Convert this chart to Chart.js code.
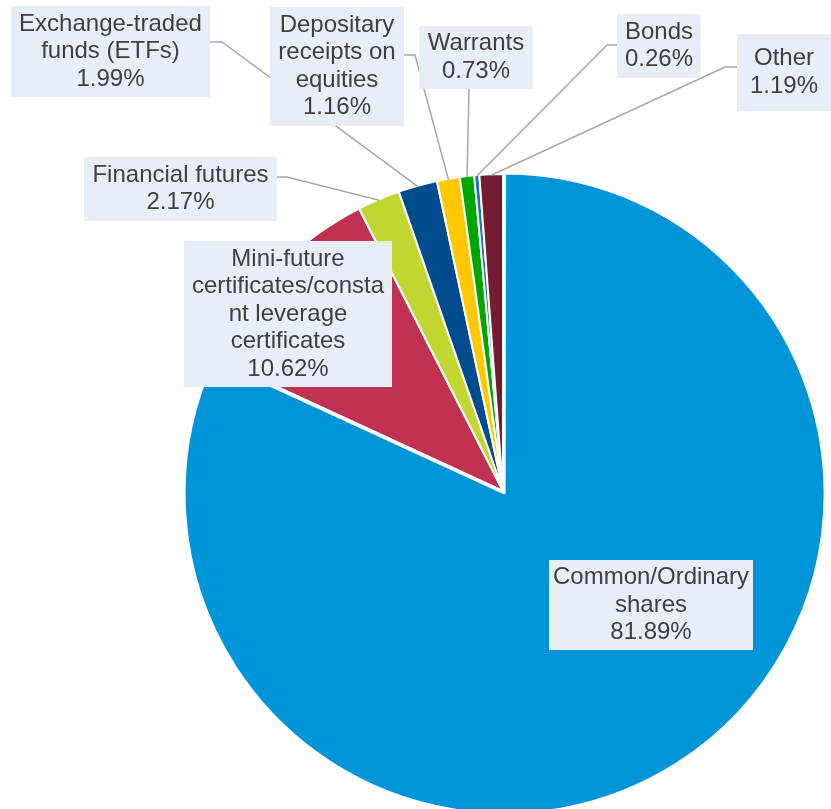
<!DOCTYPE html>
<html>
<head>
<meta charset="utf-8">
<script src="https://cdn.jsdelivr.net/npm/chart.js@4"></script>
<style>
  html, body { margin: 0; padding: 0; background: #fff; overflow: hidden; }
  #wrap { width: 831px; height: 809px; position: relative; }
</style>
</head>
<body>
<div id="wrap"><canvas id="myChart"></canvas></div>
<script>
/* global Chart */

// categories (line breaks as shown in the labels) and shares in %
var categories = [
  ['Common/Ordinary', 'shares'],
  ['Mini-future', 'certificates/consta', 'nt leverage', 'certificates'],
  ['Financial futures'],
  ['Exchange-traded', 'funds (ETFs)'],
  ['Depositary', 'receipts on', 'equities'],
  ['Warrants'],
  ['Bonds'],
  ['Other']
];
var shares = [81.89, 10.62, 2.17, 1.99, 1.16, 0.73, 0.26, 1.19];
var colors = ['#0095D8', '#C13151', '#C1D631', '#004C8E', '#FFC800', '#00A600', '#2273B0', '#731C33'];

// label boxes: [x, y, w, h] and leader line start points (end is on the slice)
var labelBoxes = [
  { box: [549, 560, 204, 90] },
  { box: [184, 241, 208, 146] },
  { box: [84, 157, 193, 64], leader: [[277, 177], [287, 177]] },
  { box: [11, 6, 199, 91], leader: [[210, 42], [222, 42]] },
  { box: [270, 7, 134, 119], leader: [[404, 55], [415, 55]] },
  { box: [419, 26, 114, 63], leader: [[469, 89]] },
  { box: [617, 14, 84, 64], leader: [[617, 45], [607, 45]] },
  { box: [737, 34, 94, 77], leader: [[737, 67], [725, 67]] }
];

var pieLabels = {
  id: 'pieLabels',
  afterDatasetsDraw: function(chart) {
    var ctx = chart.ctx;
    var arcs = chart.getDatasetMeta(0).data;
    ctx.save();
    // leader lines first so boxes sit over them
    ctx.strokeStyle = '#A6A6A6';
    ctx.lineWidth = 1.5;
    labelBoxes.forEach(function(lb, i) {
      if (!lb.leader) return;
      var a = arcs[i];
      var mid = (a.startAngle + a.endAngle) / 2;
      var r = a.outerRadius - 1;
      ctx.beginPath();
      ctx.moveTo(lb.leader[0][0], lb.leader[0][1]);
      for (var k = 1; k < lb.leader.length; k++) ctx.lineTo(lb.leader[k][0], lb.leader[k][1]);
      ctx.lineTo(a.x + Math.cos(mid) * r, a.y + Math.sin(mid) * r);
      ctx.stroke();
    });
    ctx.font = '24px "Liberation Sans", Arial, sans-serif';
    ctx.textAlign = 'center';
    ctx.textBaseline = 'middle';
    var lh = 27.5;
    labelBoxes.forEach(function(lb, i) {
      var b = lb.box;
      ctx.fillStyle = '#E7EEF7';
      ctx.fillRect(b[0], b[1], b[2], b[3]);
      var lines = categories[i].concat([shares[i].toFixed(2) + '%']);
      var cx = b[0] + b[2] / 2;
      var top = b[1] + b[3] / 2 - (lines.length - 1) * lh / 2;
      ctx.fillStyle = '#404040';
      lines.forEach(function(t, j) {
        ctx.fillText(t, cx, top + j * lh);
      });
    });
    ctx.restore();
  }
};

var chart1 = document.getElementById('myChart').getContext('2d');

new Chart(chart1, {
  type: 'pie',
  data: {
    labels: categories.map(function(c) { return c.join(' '); }),
    datasets: [{
      data: shares,
      backgroundColor: colors,
      borderColor: '#ffffff',
      borderWidth: 2,
      offset: [12, 0, 0, 0, 0, 0, 0, 0],
      radius: 317,
      clip: false
    }]
  },
  options: {
    responsive: true,
    maintainAspectRatio: false,
    animation: false,
    layout: { padding: { left: 175, right: 0, top: 173, bottom: 0 } },
    plugins: {
      legend: { display: false },
      tooltip: { enabled: false }
    }
  },
  plugins: [pieLabels]
});
</script>
</body>
</html>
